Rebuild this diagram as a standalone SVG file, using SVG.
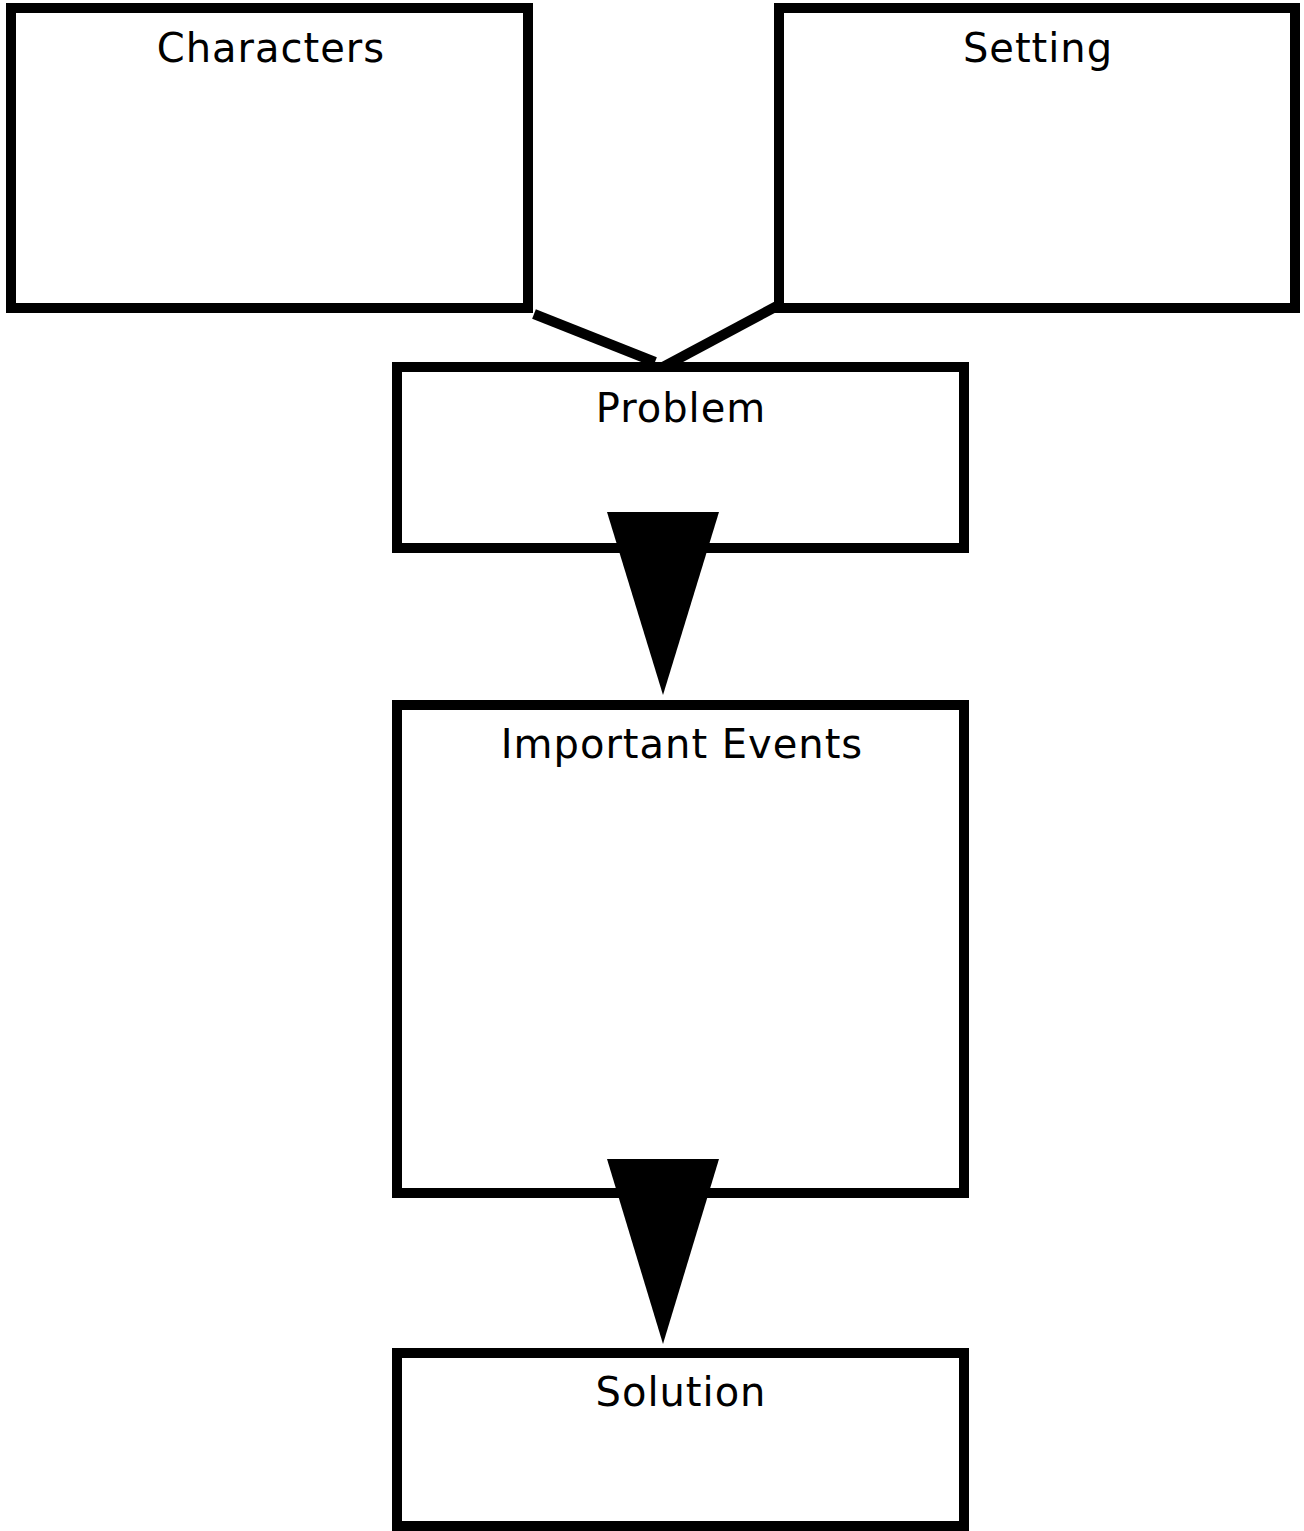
<svg xmlns="http://www.w3.org/2000/svg" width="1304" height="1531" viewBox="0 0 1304 1531">
<style>
.box{fill:#fff;stroke:#000;stroke-width:10}
.lbl{font-family:"DejaVu Sans",Verdana,sans-serif;font-size:40px;letter-spacing:1px;fill:#000;text-anchor:middle}
.con{stroke:#000;stroke-width:10;fill:none}
.head{fill:#000;stroke:none}
</style>
<rect width="1304" height="1531" fill="#fff"/>
<g id="characters"><rect class="box" x="11" y="8" width="517" height="300"/><text class="lbl" x="271" y="62">Characters</text></g>
<g id="setting"><rect class="box" x="779" y="8" width="516" height="300"/><text class="lbl" x="1038" y="62">Setting</text></g>
<g id="problem"><rect class="box" x="397" y="367" width="567" height="181"/><text class="lbl" x="681" y="422">Problem</text></g>
<g id="events"><rect class="box" x="397" y="705" width="567" height="488"/><text class="lbl" x="682" y="758">Important Events</text></g>
<g id="solution"><rect class="box" x="397" y="1353" width="567" height="173"/><text class="lbl" x="681" y="1406">Solution</text></g>
<g id="connectors">
<line class="con" x1="534" y1="314" x2="655" y2="362"/>
<polyline class="con" points="777,306 663,367"/>
<polygon class="head" points="607,512 719,512 663,695"/>
<polygon class="head" points="607,1159 719,1159 663,1344"/>
</g>
</svg>
